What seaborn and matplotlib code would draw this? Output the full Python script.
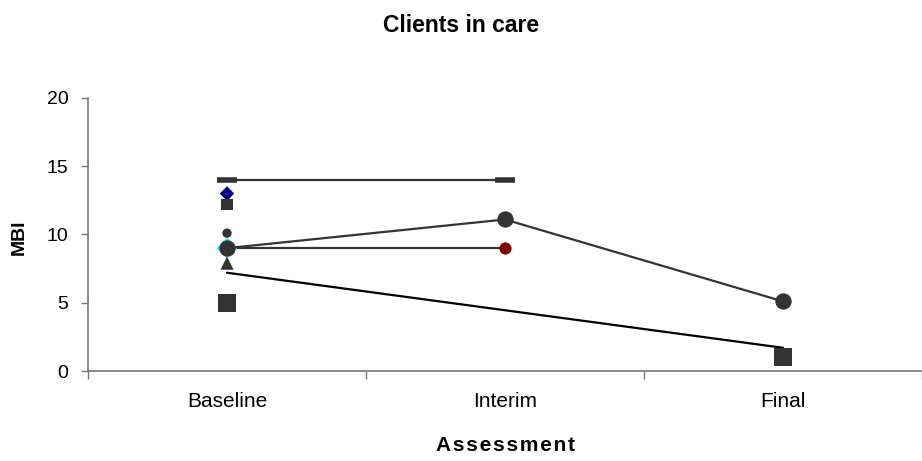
import matplotlib
matplotlib.use("Agg")
import matplotlib.pyplot as plt
import numpy as np
import pandas as pd
import seaborn as sns

sns.set_theme(style="white")
plt.rcParams["font.family"] = ["Liberation Sans", "DejaVu Sans"]
plt.rcParams["text.color"] = "black"
plt.rcParams["axes.labelcolor"] = "black"
plt.rcParams["xtick.color"] = "black"
plt.rcParams["ytick.color"] = "black"

# Assessment points
categories = ["Baseline", "Interim", "Final"]
y_ticks = [0, 5, 10, 15, 20]

# MBI scores per client (None = not assessed)
client_a = [14.0, 14.0, None]      # dash marker, baseline -> interim
client_b = [13.0, None, None]      # navy diamond
client_c = [12.2, None, None]      # small square
client_d = [10.1, None, None]      # small circle
client_e = [9.0, 11.1, 5.1]        # large circle, all three
client_f = [9.0, 9.0, None]        # baseline -> interim, red circle at interim
client_g = [7.9, None, None]       # triangle
client_h = [7.2, None, 1.7]        # plain line, baseline -> final
client_i = [5.0, None, 1.0]        # large square, no line

dark = "#333333"
lw = 1.6

fig = plt.figure(figsize=(9.22, 4.61), dpi=100)
ax = fig.add_axes([88 / 922, 1 - 371 / 461, 1 - 88 / 922, (371 - 98) / 461])

def frame(values):
    df = pd.DataFrame({"x": np.arange(len(categories)), "y": values})
    return df.dropna()

# connected series
sns.lineplot(data=frame(client_a), x="x", y="y", ax=ax, color=dark, lw=lw,
             marker="_", markersize=14, markeredgewidth=4, markeredgecolor=dark)
sns.lineplot(data=frame(client_f), x="x", y="y", ax=ax, color=dark, lw=lw,
             marker="o", markersize=8, markerfacecolor="#800000",
             markeredgecolor="#800000")
# the baseline point of client_f is cyan; redraw it
sns.scatterplot(data=frame(client_f).iloc[:1], x="x", y="y", ax=ax,
                color="#00FFFF", marker="D", s=110, edgecolor="none", zorder=4)
sns.lineplot(data=frame(client_e), x="x", y="y", ax=ax, color=dark, lw=lw,
             marker="o", markersize=11, markerfacecolor=dark,
             markeredgecolor=dark, zorder=5)
sns.lineplot(data=frame(client_h), x="x", y="y", ax=ax, color="black", lw=lw)

# single points / unconnected series
sns.scatterplot(data=frame(client_b), x="x", y="y", ax=ax, color="#000080",
                marker="D", s=55, edgecolor="none", zorder=5)
sns.scatterplot(data=frame(client_c), x="x", y="y", ax=ax, color=dark,
                marker="s", s=65, edgecolor="none", zorder=5)
sns.scatterplot(data=frame(client_d), x="x", y="y", ax=ax, color=dark,
                marker="o", s=45, edgecolor="none", zorder=5)
sns.scatterplot(data=frame(client_g), x="x", y="y", ax=ax, color=dark,
                marker="^", s=90, edgecolor="none", zorder=5)
sns.scatterplot(data=frame(client_i), x="x", y="y", ax=ax, color=dark,
                marker="s", s=170, edgecolor="none", zorder=5)

ax.set_xlim(-0.5, len(categories) - 0.5)
ax.set_ylim(0, 20)
ax.set_yticks(y_ticks)
ax.set_yticklabels([str(v) for v in y_ticks], fontsize=14)
ax.set_xticks(np.arange(len(categories)))
ax.set_xticklabels(categories, fontsize=15)
ax.set_xticks(np.arange(len(categories) + 1) - 0.5, minor=True)
ax.tick_params(axis="x", which="major", length=0, pad=15)
ax.tick_params(axis="x", which="minor", length=6, width=1, color="#777777",
               direction="out", bottom=True)
ax.tick_params(axis="y", which="major", length=5, width=1, color="#777777",
               labelcolor="black", direction="out", left=True, pad=9)
ax.tick_params(axis="x", labelcolor="black")

for side in ["top", "right"]:
    ax.spines[side].set_visible(False)
for side in ["left", "bottom"]:
    ax.spines[side].set_color("#777777")
    ax.spines[side].set_linewidth(1.2)

ax.set_xlabel("A s s e s s m e n t".replace(" ", "\u200a"), fontsize=15,
              fontweight="bold", va="center", color="black")
ax.xaxis.set_label_coords(0.5, -(445 - 371) / 273)
ax.set_ylabel("MBI", fontsize=14, fontweight="bold", va="center", color="black")
ax.yaxis.set_label_coords(-(88 - 19) / 834, (371 - 237) / 273)
fig.text(0.5, 1 - 25 / 461, "Clients in care", ha="center", va="center",
         fontsize=16.5, fontweight="bold", color="black")

fig.savefig("out.png", dpi=100)
